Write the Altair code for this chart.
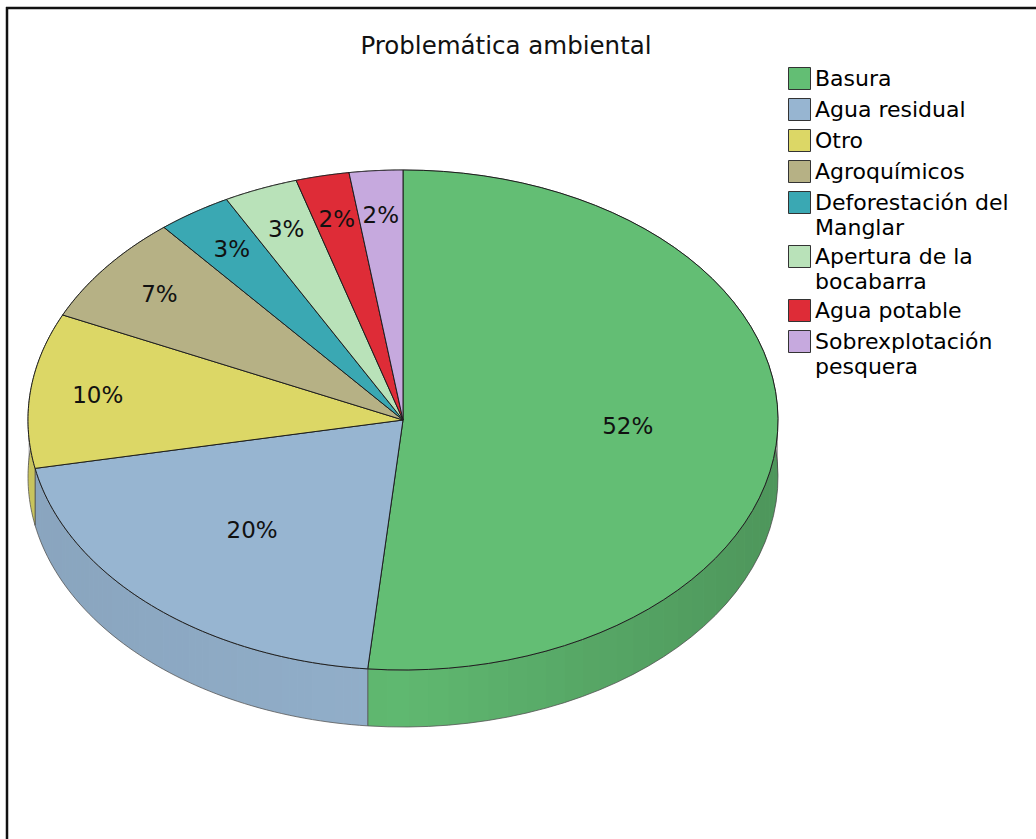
import altair as alt
import pandas as pd

# Survey answers: share of mentions per environmental problem (percent)
categories = [
    "Basura",
    "Agua residual",
    "Otro",
    "Agroquímicos",
    "Deforestación del Manglar",
    "Apertura de la bocabarra",
    "Agua potable",
    "Sobrexplotación pesquera",
]
percent = [51.5, 20.4, 10.0, 7.1, 3.2, 3.2, 2.3, 2.3]
colors = ["#63BE74", "#97B5D1", "#DCD766", "#B6B185",
          "#3AA8B3", "#B9E2B9", "#DE2C37", "#C6A9DE"]

df = pd.DataFrame({"category": categories, "value": percent})

# Pie geometry (pixels): centre, radii of the tilted top face and wall depth
CX, CY, RX, RY, DEPTH = 403, 420, 375, 250, 57
D = DEPTH / RY
N = 60  # arc resolution per slice

xs = alt.Scale(domain=[-1, 1], range=[CX - RX, CX + RX], nice=False, zero=False)
ys = alt.Scale(domain=[-1, 1], range=[CY + RY, CY - RY], nice=False, zero=False)
cs = alt.Scale(domain=categories, range=colors)

legend = alt.Legend(
    title=None, orient="none", legendX=788, legendY=67,
    symbolType="square", symbolSize=484, symbolStrokeColor="#333",
    symbolStrokeWidth=1, symbolOpacity=1,
    labelFont="DejaVu Sans", labelFontSize=22, labelColor="#000",
    labelOffset=4, rowPadding=4, labelLimit=400,
    labelExpr=("length(datum.label) > 14 ? "
               "[substring(datum.label, 0, lastindexof(datum.label, ' ')), "
               "substring(datum.label, lastindexof(datum.label, ' ') + 1)] "
               ": datum.label"),
)

# Cumulative start / end angle of every slice, clockwise from 12 o'clock
base = alt.Chart(df).transform_window(
    idx="row_number()"
).transform_joinaggregate(
    total="sum(value)"
).transform_window(
    cum="sum(value)", sort=[alt.SortField("idx")], frame=[None, 0]
).transform_calculate(
    a0="2 * PI * (datum.cum - datum.value) / datum.total",
    a1="2 * PI * datum.cum / datum.total",
)

# Side wall of each slice: top arc forward, bottom arc backward
wall = base.transform_calculate(
    k=f"sequence(0, {2 * N + 3})"
).transform_flatten(["k"]).transform_calculate(
    j=f"datum.k <= {N} ? datum.k : (datum.k <= {2 * N + 1} ? {2 * N + 1} - datum.k : 0)",
    bot=f"datum.k > {N} && datum.k <= {2 * N + 1} ? 1 : 0",
).transform_calculate(
    ang=f"datum.a0 + (datum.a1 - datum.a0) * datum.j / {N}",
).transform_calculate(
    px="sin(datum.ang)",
    py=f"cos(datum.ang) - datum.bot * {D}",
).mark_line(filled=True, stroke="#5a5a5a", strokeWidth=0.8, strokeJoin="round").encode(
    x=alt.X("px:Q", scale=xs, axis=None),
    y=alt.Y("py:Q", scale=ys, axis=None),
    color=alt.Color("category:N", scale=cs, legend=legend),
    order=alt.Order("k:Q"),
)

# Lighting on the wall: thin vertical strips, darker towards the sides
shade = base.transform_calculate(
    s=f"sequence(0, {N})"
).transform_flatten(["s"]).transform_calculate(
    c="sequence(0, 5)"
).transform_flatten(["c"]).transform_calculate(
    t="(datum.c == 1 || datum.c == 2) ? 1 : 0",
    bot="(datum.c == 2 || datum.c == 3) ? 1 : 0",
).transform_calculate(
    ang=f"datum.a0 + (datum.a1 - datum.a0) * (datum.s + datum.t) / {N}",
    mid=f"datum.a0 + (datum.a1 - datum.a0) * (datum.s + 0.5) / {N}",
).transform_calculate(
    px="sin(datum.ang)",
    py=f"cos(datum.ang) - datum.bot * {D}",
    op="0.03 + 0.12 * abs(sin(datum.mid)) + 0.06 * sin(datum.mid)",
).mark_line(filled=True, fill="black", strokeWidth=0).encode(
    x=alt.X("px:Q", scale=xs, axis=None),
    y=alt.Y("py:Q", scale=ys, axis=None),
    detail=["category:N", "s:Q"],
    opacity=alt.Opacity("op:Q", scale=None, legend=None),
    order=alt.Order("c:Q"),
)

# Top face of each slice: centre -> arc -> centre
top = base.transform_calculate(
    k=f"sequence(0, {N + 3})"
).transform_flatten(["k"]).transform_calculate(
    ang=f"datum.a0 + (datum.a1 - datum.a0) * (datum.k - 1) / {N}",
    centre=f"(datum.k == 0 || datum.k == {N + 2}) ? 1 : 0",
).transform_calculate(
    px="datum.centre ? 0 : sin(datum.ang)",
    py="datum.centre ? 0 : cos(datum.ang)",
).mark_line(filled=True, stroke="#1e1e1e", strokeWidth=1, strokeJoin="round").encode(
    x=alt.X("px:Q", scale=xs, axis=None),
    y=alt.Y("py:Q", scale=ys, axis=None),
    color=alt.Color("category:N", scale=cs, legend=legend),
    order=alt.Order("k:Q"),
)

# Percentage labels along each slice's middle angle
labels = base.transform_calculate(
    mid="(datum.a0 + datum.a1) / 2",
    f="datum.value / datum.total > 0.15 ? 0.6 : 0.82",
    lab="round(datum.value) + '%'",
).transform_calculate(
    lx="datum.f * sin(datum.mid)",
    ly="datum.f * cos(datum.mid)",
).mark_text(font="DejaVu Sans", fontSize=23, color="#111", baseline="middle").encode(
    x=alt.X("lx:Q", scale=xs, axis=None),
    y=alt.Y("ly:Q", scale=ys, axis=None),
    text="lab:N",
)

one = alt.Data(values=[{"a": 1}])
title = alt.Chart(one).mark_text(
    text="Problemática ambiental", font="DejaVu Sans", fontSize=24.5,
    color="#111", align="center", baseline="alphabetic",
).encode(x=alt.value(506), y=alt.value(54))

frame_left = alt.Chart(one).mark_rule(color="#111", strokeWidth=2.5).encode(
    x=alt.value(7), y=alt.value(7), y2=alt.value(839))
frame_top = alt.Chart(one).mark_rule(color="#111", strokeWidth=2.5).encode(
    x=alt.value(6), x2=alt.value(1036), y=alt.value(8))

chart = alt.layer(
    wall, shade, top, labels, title, frame_left, frame_top
).properties(
    width=1036, height=839, padding=0, autosize="none", background="white"
).configure(
    view=alt.ViewConfig(stroke=None),
    style={"guide-label": {"lineHeight": 25}},
)

chart.save("out.html", embed_options={"renderer": "svg", "actions": False})
